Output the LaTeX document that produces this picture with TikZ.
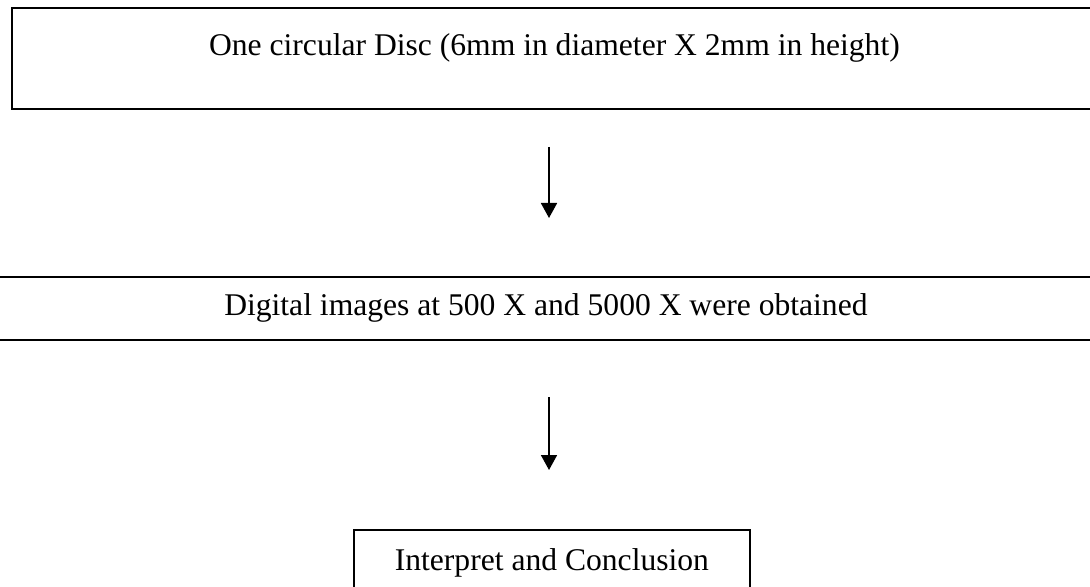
\documentclass[tikz,border=0pt]{standalone}
\usepackage{fontspec}
\setmainfont{Liberation Serif}
\usetikzlibrary{arrows.meta}
\usetikzlibrary{positioning}
\tikzset{
  stepbox/.style={draw=black, line width=0.9pt, inner xsep=0pt, inner ysep=0pt,
    font=\fontsize{15.8}{19}\selectfont, anchor=north west},
  flow/.style={line width=0.9pt, -{Triangle[width=8pt,length=7.5pt]}},
}

\begin{document}
\begin{tikzpicture}[x=0.5pt,y=-0.5pt]
        %Frame
        \useasboundingbox (0,0) rectangle (1090,587);
        \clip (0,0) rectangle (1090,587);
        %Boxes
        \node [stepbox, minimum width=542.5pt, text height=24pt, text depth=26.5pt] (disc) at (11,7)
              {One circular Disc (6mm in diameter X 2mm in height)};
        \node [stepbox, minimum width=555pt, text height=19.5pt, text depth=12pt] (images) at (-10,276)
              {Digital images at 500 X and 5000 X were obtained};
        \node [stepbox, minimum width=198pt, text height=20.5pt, text depth=15pt] (concl) at (353,529)
              {Interpret and Conclusion};
        %Arrows
        \coordinate (a1top) at (549,147); \coordinate (a1end) at (549,218);
        \coordinate (a2top) at (549,397); \coordinate (a2end) at (549,470);
        \draw [flow] (a1top) -- (a1end);
        \draw [flow] (a2top) -- (a2end);
\end{tikzpicture}
\end{document}
